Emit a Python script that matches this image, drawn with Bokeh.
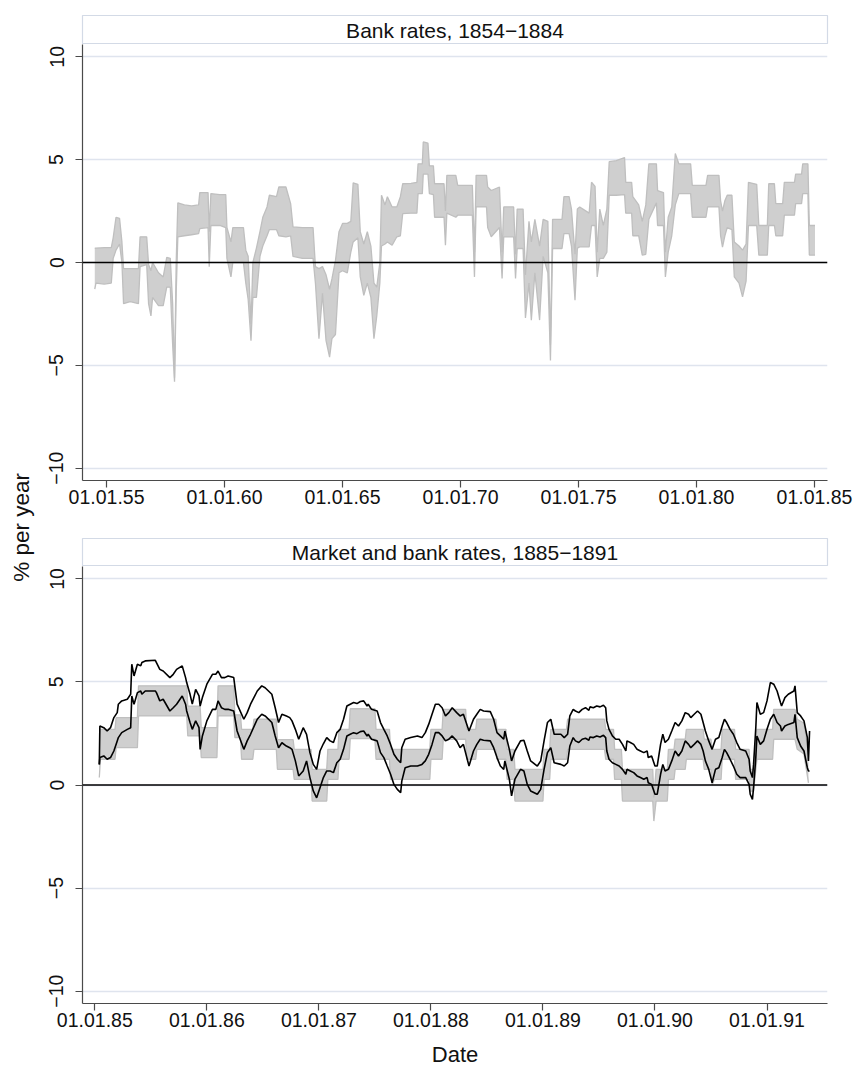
from math import pi
from bokeh.plotting import figure
from bokeh.models import Range1d, FixedTicker, Span, Label
from bokeh.layouts import row, column
from bokeh.embed import file_html
from bokeh.resources import INLINE

FONT = "Liberation Sans"

# ---------------- data ----------------
top_title = "Bank rates, 1854\u22121884"
bottom_title = "Market and bank rates, 1885\u22121891"
y_label = "% per year"
x_label = "Date"

y_ticks = [-10, -5, 0, 5, 10]
y_tick_labels = ["\u221210", "\u22125", "0", "5", "10"]

top_ticks = [1855, 1860, 1865, 1870, 1875, 1880, 1885]
top_tick_labels = ["01.01.55", "01.01.60", "01.01.65", "01.01.70", "01.01.75", "01.01.80", "01.01.85"]
bottom_ticks = [1885, 1886, 1887, 1888, 1889, 1890, 1891]
bottom_tick_labels = ["01.01.85", "01.01.86", "01.01.87", "01.01.88", "01.01.89", "01.01.90", "01.01.91"]

# Bank-rate band, 1854-1884 (fractional year, lower edge, upper edge)
top_dates = [
    1854.50, 1854.55, 1854.90, 1855.20, 1855.28, 1855.40, 1855.55, 1855.65, 1855.72, 1856.00,
    1856.35, 1856.42, 1856.70, 1856.78, 1856.88, 1856.95, 1857.20, 1857.40, 1857.55, 1857.70,
    1857.80, 1857.88, 1857.95, 1858.02, 1858.30, 1858.60, 1858.90, 1858.95, 1859.30, 1859.35,
    1859.42, 1859.80, 1860.05, 1860.10, 1860.27, 1860.35, 1860.80, 1860.90, 1861.00, 1861.12,
    1861.20, 1861.35, 1861.50, 1861.62, 1861.80, 1861.90, 1862.20, 1862.30, 1862.60, 1862.80,
    1862.90, 1863.30, 1863.75, 1863.85, 1864.00, 1864.15, 1864.30, 1864.45, 1864.55, 1864.70,
    1864.85, 1865.00, 1865.20, 1865.35, 1865.45, 1865.65, 1865.75, 1865.90, 1866.05, 1866.20,
    1866.33, 1866.45, 1866.58, 1866.65, 1866.80, 1866.90, 1867.10, 1867.30, 1867.45, 1867.55,
    1867.90, 1868.15, 1868.20, 1868.38, 1868.42, 1868.62, 1868.68, 1868.85, 1868.90, 1869.30,
    1869.36, 1869.42, 1869.80, 1869.88, 1870.50, 1870.59, 1870.66, 1871.10, 1871.15, 1871.30,
    1871.65, 1871.76, 1871.83, 1872.25, 1872.33, 1872.40, 1872.65, 1872.75, 1872.90, 1873.00,
    1873.15, 1873.35, 1873.50, 1873.70, 1873.81, 1873.90, 1874.30, 1874.38, 1874.60, 1874.70,
    1874.85, 1874.95, 1875.05, 1875.45, 1875.55, 1875.70, 1875.79, 1875.90, 1876.05, 1876.20,
    1876.30, 1876.60, 1876.95, 1877.00, 1877.25, 1877.30, 1877.55, 1877.70, 1877.85, 1877.98,
    1878.30, 1878.35, 1878.60, 1878.68, 1878.80, 1878.95, 1879.10, 1879.25, 1879.75, 1879.82,
    1880.40, 1880.47, 1880.95, 1881.02, 1881.10, 1881.20, 1881.30, 1881.50, 1881.60, 1881.80,
    1881.95, 1882.10, 1882.20, 1882.55, 1882.64, 1883.00, 1883.06, 1883.30, 1883.36, 1883.65,
    1883.72, 1884.15, 1884.20, 1884.45, 1884.50, 1884.72, 1884.78, 1885.02,
]
top_low = [
    -1.30, -1.00, -1.05, -1.00, 0.20, 0.60, 0.90, 0.00, -2.00, -1.90,
    -2.00, -0.20, -0.10, -2.00, -2.60, -1.70, -2.10, -2.10, -1.20, -1.20,
    -4.00, -5.80, -1.50, 1.25, 1.30, 1.35, 1.40, 1.65, 1.70, -0.20,
    1.80, 1.80, 1.70, 0.20, -0.70, 0.00, 0.00, -1.00, -1.80, -3.80,
    -1.70, -1.70, 0.30, 0.80, 1.30, 1.60, 1.60, 1.30, 1.25, 1.30,
    0.30, 0.20, 0.20, -1.00, -3.70, -1.50, -3.80, -4.60, -3.70, -3.50,
    -0.50, -0.40, -0.50, 0.50, 1.00, 1.20, -0.70, -1.60, -1.00, -1.70,
    -3.70, -2.60, -1.00, 0.80, 0.90, 1.00, 0.84, 1.25, 1.30, 2.38,
    2.40, 2.40, 3.35, 3.35, 4.30, 4.30, 3.35, 3.30, 2.20, 2.20,
    0.84, 2.40, 2.20, 2.30, 2.30, -0.70, 2.70, 2.70, 1.70, 1.25,
    1.70, -0.78, 1.25, 1.25, -0.78, 0.68, 0.68, -2.70, -1.00, -2.80,
    -0.50, -2.80, 0.30, -0.50, -4.77, 0.68, 0.68, 1.40, 1.40, 0.80,
    -1.83, 0.70, 0.76, 0.76, 1.80, 1.80, -0.70, 0.20, 0.20, 0.50,
    3.27, 3.27, 3.30, 2.40, 2.40, 1.30, 1.30, 0.36, 0.40, 2.10,
    2.90, 1.80, 1.80, -0.70, 0.50, 1.30, 2.80, 3.35, 3.35, 2.20,
    2.20, 2.70, 2.70, 1.30, 0.75, 1.30, 1.70, 1.60, -0.70, -1.00,
    -1.67, -0.90, 1.80, 1.80, 0.36, 0.36, 1.80, 1.80, 1.30, 1.30,
    2.30, 2.30, 2.86, 2.86, 3.35, 3.35, 0.36, 0.36,
]
top_high = [
    0.70, 0.70, 0.72, 0.72, 1.20, 2.20, 2.15, 1.00, -0.30, -0.30,
    -0.30, 1.25, 1.25, -0.10, -0.40, 0.00, -0.50, -0.70, 0.25, 0.20,
    -2.00, -5.60, 0.00, 2.90, 2.80, 2.75, 2.80, 3.40, 3.40, 1.50,
    3.35, 3.30, 3.30, 1.70, 1.00, 1.70, 1.70, 0.60, 0.30, -3.00,
    0.00, 0.70, 1.50, 2.20, 2.70, 3.27, 3.20, 3.67, 3.67, 2.86,
    1.73, 1.70, 1.70, -0.20, -0.30, -0.20, -0.60, -1.30, -0.80, 0.10,
    1.50, 1.90, 1.90, 2.00, 3.87, 3.80, 1.50, 0.90, 1.50, 0.80,
    -1.00, -1.20, 0.00, 3.27, 2.80, 3.20, 2.70, 2.70, 3.20, 3.83,
    3.85, 3.90, 4.80, 4.80, 5.86, 5.80, 4.70, 4.70, 3.83, 3.83,
    2.50, 4.24, 4.24, 3.75, 3.75, 0.50, 4.24, 4.24, 3.67, 3.50,
    3.67, 0.50, 2.70, 2.70, 0.40, 2.60, 2.60, -0.60, 2.00, 1.00,
    2.10, 0.80, 2.10, 2.00, -4.00, 2.10, 2.10, 3.20, 3.20, 2.60,
    0.40, 2.60, 2.70, 2.40, 3.90, 3.70, 0.50, 2.60, 1.80, 2.60,
    4.90, 4.95, 5.10, 3.90, 3.90, 3.20, 2.80, 2.00, 2.80, 4.80,
    4.80, 3.50, 3.40, 0.50, 2.20, 2.70, 5.30, 4.80, 4.80, 3.75,
    3.75, 4.24, 4.24, 3.00, 2.50, 3.00, 3.27, 3.27, 1.00, 0.80,
    0.60, 0.90, 3.90, 3.80, 1.80, 1.80, 3.83, 3.83, 2.86, 2.86,
    3.90, 3.90, 4.30, 4.30, 4.80, 4.80, 1.80, 1.80,
]

# Bank-rate band, 1885-1891
band_dates = [
    1885.04, 1885.05, 1885.18, 1885.19, 1885.38, 1885.39, 1885.82, 1885.83, 1885.94, 1885.95,
    1886.09, 1886.10, 1886.24, 1886.25, 1886.30, 1886.31, 1886.41, 1886.42, 1886.62, 1886.63,
    1886.77, 1886.78, 1886.93, 1886.94, 1887.07, 1887.08, 1887.17, 1887.18, 1887.27, 1887.28,
    1887.50, 1887.51, 1887.63, 1887.64, 1887.99, 1888.00, 1888.10, 1888.11, 1888.31, 1888.32,
    1888.40, 1888.41, 1888.58, 1888.59, 1888.67, 1888.68, 1888.74, 1888.75, 1889.00, 1889.01,
    1889.06, 1889.07, 1889.21, 1889.22, 1889.55, 1889.56, 1889.63, 1889.64, 1889.70, 1889.71,
    1889.98, 1889.99, 1890.01, 1890.11, 1890.12, 1890.17, 1890.18, 1890.27, 1890.28, 1890.43,
    1890.44, 1890.50, 1890.51, 1890.53, 1890.59, 1890.60, 1890.71, 1890.72, 1890.84, 1890.85,
    1890.88, 1890.90, 1890.91, 1891.05, 1891.06, 1891.25, 1891.27, 1891.33, 1891.37,
]
band_low = [
    0.36, 1.25, 1.25, 1.81, 1.81, 3.35, 3.35, 2.38, 2.38, 1.33,
    1.33, 3.35, 3.35, 2.30, 2.30, 1.25, 1.25, 1.73, 1.73, 0.76,
    0.76, 0.27, 0.27, -0.78, -0.78, 0.27, 0.27, 1.25, 1.25, 2.25,
    2.25, 1.25, 1.25, 0.27, 0.27, 1.25, 1.25, 2.22, 2.22, 1.25,
    1.25, 1.73, 1.73, 1.25, 1.25, 0.27, 0.27, -0.78, -0.78, 0.27,
    0.27, 1.25, 1.25, 1.73, 1.73, 1.25, 1.25, 0.27, 0.27, -0.78,
    -0.78, -1.75, -0.78, -0.78, 0.27, 0.27, 0.76, 0.76, 1.25, 1.25,
    0.76, 0.76, 0.00, 0.27, 0.27, 1.25, 1.25, 0.27, 0.27, -0.30,
    -0.30, 0.76, 1.25, 1.25, 2.22, 2.22, 1.73, 1.50, 0.10,
]
band_high = [
    2.70, 2.70, 2.70, 3.27, 3.27, 4.81, 4.81, 3.83, 3.83, 2.78,
    2.78, 4.81, 4.81, 3.40, 3.40, 2.70, 2.70, 3.19, 3.19, 2.20,
    2.20, 1.73, 1.73, 0.76, 0.76, 1.73, 1.73, 2.70, 2.70, 3.70,
    3.70, 2.70, 2.70, 1.73, 1.73, 2.70, 2.70, 3.67, 3.67, 2.70,
    2.70, 3.19, 3.19, 2.70, 2.70, 1.73, 1.73, 0.76, 0.76, 1.73,
    1.73, 2.70, 2.70, 3.19, 3.19, 2.70, 2.70, 1.73, 1.73, 0.76,
    0.76, -0.60, 0.76, 0.76, 1.73, 1.73, 2.22, 2.22, 2.70, 2.70,
    2.22, 2.22, 1.73, 1.73, 1.73, 2.70, 2.70, 1.73, 1.73, 0.76,
    0.76, 2.22, 2.70, 2.70, 3.67, 3.67, 3.19, 3.00, 1.50,
]

# Market rates, 1885-1891 (two series)
mkt_dates = [
    1885.040, 1885.045, 1885.08, 1885.11, 1885.14, 1885.17, 1885.20, 1885.21, 1885.24, 1885.29,
    1885.32, 1885.33, 1885.35, 1885.38, 1885.41, 1885.42, 1885.45, 1885.54, 1885.55, 1885.58,
    1885.61, 1885.67, 1885.70, 1885.73, 1885.78, 1885.81, 1885.82, 1885.85, 1885.87, 1885.90,
    1885.93, 1885.94, 1885.96, 1886.00, 1886.05, 1886.08, 1886.10, 1886.13, 1886.16, 1886.19,
    1886.24, 1886.27, 1886.33, 1886.36, 1886.39, 1886.45, 1886.49, 1886.52, 1886.58, 1886.61,
    1886.64, 1886.67, 1886.71, 1886.74, 1886.76, 1886.79, 1886.82, 1886.86, 1886.89, 1886.92,
    1886.95, 1886.98, 1887.01, 1887.04, 1887.07, 1887.10, 1887.13, 1887.16, 1887.19, 1887.22,
    1887.25, 1887.28, 1887.31, 1887.34, 1887.37, 1887.40, 1887.43, 1887.44, 1887.47, 1887.52,
    1887.55, 1887.58, 1887.61, 1887.64, 1887.67, 1887.70, 1887.73, 1887.74, 1887.77, 1887.82,
    1887.88, 1887.92, 1887.95, 1887.98, 1888.01, 1888.04, 1888.07, 1888.10, 1888.13, 1888.16,
    1888.19, 1888.23, 1888.26, 1888.29, 1888.34, 1888.38, 1888.41, 1888.44, 1888.47, 1888.53,
    1888.56, 1888.59, 1888.62, 1888.65, 1888.66, 1888.70, 1888.72, 1888.75, 1888.80, 1888.83,
    1888.86, 1888.89, 1888.95, 1888.98, 1889.01, 1889.04, 1889.07, 1889.10, 1889.16, 1889.19,
    1889.22, 1889.24, 1889.27, 1889.29, 1889.32, 1889.35, 1889.38, 1889.41, 1889.42, 1889.45,
    1889.48, 1889.51, 1889.54, 1889.56, 1889.57, 1889.59, 1889.62, 1889.65, 1889.68, 1889.71,
    1889.74, 1889.75, 1889.78, 1889.81, 1889.84, 1889.87, 1889.90, 1889.93, 1889.94, 1889.97,
    1890.00, 1890.02, 1890.05, 1890.07, 1890.09, 1890.12, 1890.15, 1890.18, 1890.21, 1890.24,
    1890.27, 1890.30, 1890.32, 1890.35, 1890.38, 1890.41, 1890.43, 1890.45, 1890.48, 1890.51,
    1890.54, 1890.57, 1890.60, 1890.62, 1890.64, 1890.67, 1890.70, 1890.73, 1890.76, 1890.81,
    1890.84, 1890.85, 1890.87, 1890.88, 1890.90, 1890.91, 1890.94, 1890.97, 1891.00, 1891.03,
    1891.06, 1891.09, 1891.12, 1891.13, 1891.16, 1891.19, 1891.24, 1891.25, 1891.27, 1891.30,
    1891.33, 1891.36, 1891.37, 1891.38,
]
mkt_high = [
    1.00, 2.86, 2.78, 2.62, 2.78, 3.27, 3.51, 3.92, 4.08, 4.16,
    4.40, 5.86, 5.29, 5.86, 5.78, 5.94, 6.02, 6.05, 5.94, 5.61,
    5.53, 5.21, 5.37, 5.61, 5.78, 5.21, 4.97, 4.40, 3.92, 4.64,
    4.32, 3.83, 4.24, 4.89, 5.37, 5.37, 5.53, 5.21, 5.21, 5.29,
    5.21, 3.92, 3.19, 3.51, 3.92, 4.56, 4.81, 4.72, 4.40, 3.75,
    3.03, 3.43, 3.35, 3.27, 3.11, 2.70, 2.22, 2.78, 2.46, 1.57,
    1.00, 0.76, 1.65, 2.00, 2.30, 2.14, 2.06, 2.54, 2.70, 3.19,
    3.83, 3.92, 4.00, 3.95, 4.05, 4.08, 3.83, 3.92, 3.67, 3.59,
    3.03, 2.70, 2.38, 1.97, 1.49, 1.25, 1.08, 1.81, 2.22, 2.30,
    2.38, 2.30, 2.54, 2.94, 3.43, 3.92, 3.92, 3.75, 3.35, 3.51,
    3.75, 3.51, 3.35, 3.43, 2.62, 3.19, 3.43, 3.67, 3.59, 3.56,
    3.19, 2.54, 2.38, 2.22, 2.62, 1.73, 1.17, 1.65, 2.14, 2.17,
    1.65, 1.17, 0.92, 1.17, 2.14, 3.03, 3.19, 2.46, 2.46, 2.30,
    2.46, 3.35, 3.67, 3.59, 3.51, 3.67, 3.75, 3.62, 3.79, 3.75,
    3.83, 3.79, 3.87, 3.75, 3.11, 2.70, 2.38, 2.22, 2.22, 1.97,
    1.65, 2.14, 2.06, 1.97, 1.73, 1.65, 1.57, 1.65, 1.33, 1.41,
    0.92, 0.92, 1.97, 2.46, 2.06, 2.22, 2.62, 3.03, 2.86, 3.11,
    3.51, 3.43, 3.27, 3.43, 3.59, 3.43, 3.03, 2.62, 2.14, 1.73,
    2.22, 2.30, 2.86, 3.19, 3.03, 2.70, 2.46, 2.06, 1.73, 1.65,
    1.25, 0.68, 0.36, 1.00, 2.78, 4.00, 3.43, 3.51, 4.08, 4.97,
    4.89, 4.56, 4.00, 3.83, 4.24, 4.40, 4.56, 4.81, 3.51, 3.35,
    3.11, 2.30, 1.17, 2.62,
]
mkt_low = [
    1.00, 1.33, 1.41, 1.25, 1.33, 1.65, 2.14, 2.30, 2.54, 2.70,
    2.78, 4.32, 3.92, 4.48, 4.56, 4.40, 4.56, 4.56, 4.48, 4.08,
    4.16, 3.59, 3.75, 3.92, 4.32, 3.92, 3.59, 3.03, 2.70, 3.11,
    2.78, 1.73, 2.38, 3.11, 3.67, 3.67, 4.08, 3.75, 3.67, 3.67,
    3.59, 2.62, 1.73, 2.14, 2.46, 3.19, 3.43, 3.35, 3.03, 2.38,
    1.81, 2.05, 1.89, 1.81, 1.73, 1.17, 0.44, 0.68, 1.17, 0.36,
    -0.29, -0.62, -0.13, 0.36, 0.68, 0.68, 0.60, 1.08, 1.25, 1.73,
    2.38, 2.46, 2.54, 2.49, 2.59, 2.62, 2.38, 2.46, 2.22, 2.14,
    1.57, 1.33, 0.92, 0.52, 0.03, -0.21, -0.37, 0.19, 0.84, 0.92,
    0.92, 1.00, 1.17, 1.49, 1.97, 2.54, 2.54, 2.38, 2.14, 2.22,
    2.38, 2.14, 1.81, 1.97, 0.92, 1.65, 1.97, 2.22, 2.17, 2.14,
    1.81, 1.33, 0.92, 0.76, 1.17, 0.28, -0.53, 0.28, 0.76, 0.68,
    0.03, -0.29, -0.45, -0.21, 0.76, 1.57, 1.81, 1.08, 1.00, 0.92,
    1.08, 1.89, 2.30, 2.14, 2.06, 2.22, 2.27, 2.17, 2.33, 2.30,
    2.38, 2.33, 2.41, 2.30, 1.65, 1.25, 1.08, 1.00, 0.92, 0.76,
    0.52, 0.76, 0.68, 0.60, 0.44, 0.36, 0.28, 0.36, 0.11, 0.03,
    -0.45, -0.45, 0.52, 1.00, 0.68, 0.76, 1.17, 1.65, 1.41, 1.65,
    2.14, 1.97, 1.81, 1.97, 2.14, 1.97, 1.65, 1.17, 0.76, 0.11,
    0.76, 0.84, 1.33, 1.73, 1.57, 1.25, 0.92, 0.52, 0.36, 0.36,
    0.03, -0.45, -0.70, -0.13, 1.33, 2.38, 1.97, 2.14, 2.70, 3.19,
    3.43, 3.03, 2.86, 2.62, 2.86, 2.94, 3.03, 3.43, 2.30, 1.89,
    1.65, 0.84, 0.68, 0.68,
]

# ---------------- styling ----------------
GRID = "#dfe4ee"
BOX = "#d3dae6"
AXIS = "#4a4a4a"
BAND_FILL = "#cfcfcf"
BAND_LINE = "#bfbfbf"
LAB_W = 36
FIG_W = 857 - LAB_W
LEFT = 46
RIGHT = FIG_W - LEFT - 745


def text_fig(text, height, top_border, size, ypos=0.5, outline=None):
    t = figure(width=FIG_W, height=height, x_range=Range1d(0, 1), y_range=Range1d(0, 1),
               output_backend="svg", toolbar_location=None,
               x_axis_location=None, y_axis_location=None,
               min_border_left=LEFT, min_border_right=RIGHT,
               min_border_top=top_border, min_border_bottom=0)
    t.grid.visible = False
    t.outline_line_color = outline
    t.outline_line_width = 1.2
    t.add_layout(Label(x=0.5, y=ypos, text=text, text_align="center", text_baseline="middle",
                       text_font=FONT, text_font_size=size, text_color="#111111"))
    return t


def panel_fig(height, xr, ticks, tick_labels, bottom_border):
    p = figure(width=FIG_W, height=height, x_range=Range1d(*xr), y_range=Range1d(-10.6, 10.6),
               output_backend="svg", toolbar_location=None,
               min_border_left=LEFT, min_border_right=RIGHT,
               min_border_top=0, min_border_bottom=bottom_border)
    p.outline_line_color = None
    p.xgrid.visible = False
    p.ygrid.grid_line_color = GRID
    p.ygrid.grid_line_width = 1.3

    p.yaxis.ticker = FixedTicker(ticks=y_ticks)
    p.yaxis.major_label_overrides = dict(zip(y_ticks, y_tick_labels))
    p.yaxis.major_label_orientation = "vertical"
    p.yaxis.major_label_standoff = 12

    p.xaxis.ticker = FixedTicker(ticks=ticks)
    p.xaxis.major_label_overrides = dict(zip(ticks, tick_labels))
    p.xaxis.major_label_standoff = 2

    for ax in (p.xaxis, p.yaxis):
        ax.axis_line_color = AXIS
        ax.axis_line_width = 1.2
        ax.major_tick_line_color = AXIS
        ax.major_tick_line_width = 1.2
        ax.major_tick_out = 7
        ax.major_tick_in = 0
        ax.minor_tick_line_color = None
        ax.major_label_text_font = FONT
        ax.major_label_text_font_size = "19.5px"
        ax.major_label_text_color = "#111111"
    return p


# ---------------- top panel ----------------
t1 = text_fig(top_title, 44, 15, "21px", outline=BOX)
p1 = panel_fig(472, (1853.98, 1885.55), top_ticks, top_tick_labels, 36)
p1.varea(x=top_dates, y1=top_low, y2=top_high, fill_color=BAND_FILL)
p1.line(top_dates, top_low, line_color=BAND_LINE, line_width=1.3)
p1.line(top_dates, top_high, line_color=BAND_LINE, line_width=1.3)
p1.add_layout(Span(location=0, dimension="width", line_color="black", line_width=1.6))

# ---------------- bottom panel ----------------
t2 = text_fig(bottom_title, 50, 22, "21px", outline=BOX)
p2 = panel_fig(469, (1884.89, 1891.54), bottom_ticks, bottom_tick_labels, 32)
p2.varea(x=band_dates, y1=band_low, y2=band_high, fill_color=BAND_FILL)
p2.line(band_dates, band_low, line_color=BAND_LINE, line_width=1.3)
p2.line(band_dates, band_high, line_color=BAND_LINE, line_width=1.3)
p2.add_layout(Span(location=0, dimension="width", line_color="black", line_width=1.6))
p2.line(mkt_dates, mkt_high, line_color="black", line_width=1.6)
p2.line(mkt_dates, mkt_low, line_color="black", line_width=1.6)

# x-axis title below the bottom panel
t3 = text_fig(x_label, 33, 0, "22px", ypos=0.43)

# ---------------- shared y label ----------------
lab = figure(width=LAB_W, height=1068, x_range=Range1d(0, 1), y_range=Range1d(0, 1),
             output_backend="svg", toolbar_location=None,
             x_axis_location=None, y_axis_location=None,
             min_border_left=0, min_border_right=0, min_border_top=0, min_border_bottom=0)
lab.grid.visible = False
lab.outline_line_color = None
lab.add_layout(Label(x=21 / LAB_W, y=0.5066, text=y_label, angle=pi / 2, text_align="center",
                     text_baseline="middle", text_font=FONT, text_font_size="22.5px",
                     text_color="#111111"))

layout = row(lab, column(t1, p1, t2, p2, t3))

open("out.html", "w").write(file_html(layout, INLINE))
